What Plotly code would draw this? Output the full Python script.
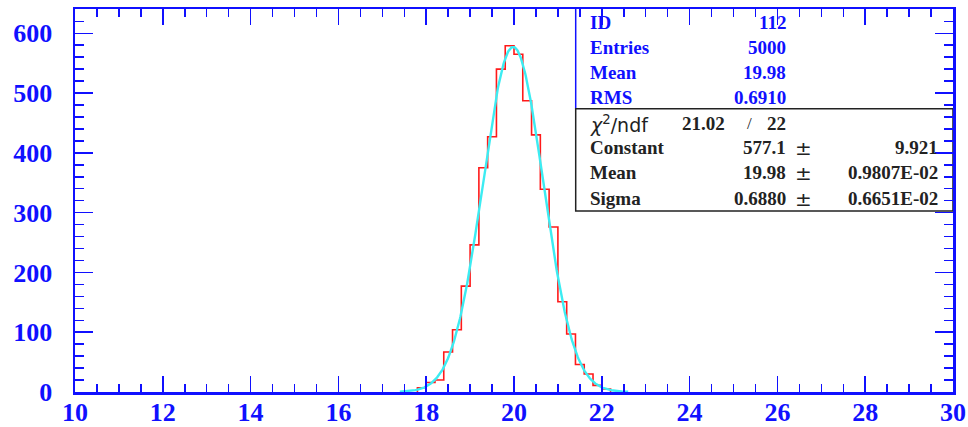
import numpy as np
import plotly.graph_objects as go

# ---- data ----
bin_width = 0.2
bin_lefts = [17.8, 18.0, 18.2, 18.4, 18.6, 18.8, 19.0, 19.2, 19.4, 19.6, 19.8,
             20.0, 20.2, 20.4, 20.6, 20.8, 21.0, 21.2, 21.4, 21.6, 21.8, 22.0]
counts = [7, 16, 20, 67, 104, 177, 246, 375, 427, 540, 579,
          565, 487, 430, 339, 276, 151, 97, 46, 30, 11, 5]

# Gaussian fit parameters (from the stats box)
fit_constant = 577.1
fit_mean = 19.98
fit_sigma = 0.6880
fit_range = [17.4, 22.6]

# stats box text
stat_labels = ["ID", "Entries", "Mean", "RMS"]
stat_values = ["112", "5000", "19.98", "0.6910"]
chi2_value = "21.02"
ndf_value = "22"
fit_labels = ["Constant", "Mean", "Sigma"]
fit_values = ["577.1", "19.98", "0.6880"]
fit_errors = ["9.921", "0.9807E-02", "0.6651E-02"]

x_ticks = [10, 12, 14, 16, 18, 20, 22, 24, 26, 28, 30]
y_ticks = [0, 100, 200, 300, 400, 500, 600]

# ---- layout geometry (pixels) ----
W, H = 968, 427
L, R, T, B = 75, 953, 8.5, 392

def px(xp):
    return (xp - L) / (R - L)

def py(yp):
    return (B - yp) / (B - T)

BLUE = "#1010ff"
DARK = "#222222"

# step histogram
xs = list(bin_lefts) + [bin_lefts[-1] + bin_width]
ys = list(counts) + [counts[-1]]
xs = [bin_lefts[0]] + xs + [xs[-1]]
ys = [0] + ys + [0]

fx = np.linspace(fit_range[0], fit_range[1], 400)
fy = fit_constant * np.exp(-0.5 * ((fx - fit_mean) / fit_sigma) ** 2)

fig = go.Figure()
fig.add_trace(go.Scatter(x=xs, y=ys, mode="lines", line=dict(color="#ff1a1a", width=1.6, shape="hv"),
                         hoverinfo="skip", showlegend=False))
fig.add_trace(go.Scatter(x=fx, y=fy, mode="lines", line=dict(color="#3cecf2", width=2.4),
                         hoverinfo="skip", showlegend=False))

tickfont = dict(family="Liberation Serif", size=26, color=BLUE, weight="bold")

fig.update_xaxes(range=[10, 30], tickvals=x_ticks, ticks="inside", ticklen=16, tickwidth=1.5,
                 tickcolor=BLUE, showline=True, linecolor=BLUE, linewidth=2.5, mirror="ticks",
                 showgrid=False, zeroline=False, tickfont=tickfont, ticklabelstandoff=-5, automargin=False,
                 minor=dict(dtick=0.5, ticks="inside", ticklen=8, tickwidth=1.5, tickcolor=BLUE, showgrid=False))
fig.update_yaxes(range=[0, (B - T) / 0.5987], tickvals=y_ticks, ticks="inside", ticklen=18, tickwidth=1.5,
                 tickcolor=BLUE, showline=True, linecolor=BLUE, linewidth=2.5, mirror="ticks",
                 showgrid=False, zeroline=False, tickfont=tickfont, ticklabelstandoff=15, automargin=False,
                 minor=dict(dtick=20, ticks="inside", ticklen=9, tickwidth=1.5, tickcolor=BLUE, showgrid=False))

# stats box
box_left = 575.7
sep_y = 108.3
box_bottom = 210.7
shapes = [
    dict(type="rect", xref="paper", yref="paper", x0=px(box_left), x1=1, y0=py(sep_y), y1=1,
         line=dict(width=0), fillcolor="white", layer="below"),
    dict(type="line", xref="paper", yref="paper", x0=px(box_left), x1=px(box_left), y0=py(sep_y), y1=1,
         line=dict(color=BLUE, width=1.5), layer="below"),
    dict(type="rect", xref="paper", yref="paper", x0=px(box_left), x1=1, y0=py(box_bottom), y1=py(sep_y),
         line=dict(color=DARK, width=1.5), fillcolor="white", layer="below"),
]

annotations = []
sfont_b = dict(family="Liberation Serif", size=19, color=BLUE, weight="bold")
sfont_k = dict(family="Liberation Serif", size=19, color=DARK, weight="bold")
lab_x = 588.3
val_x = 788.3
pm_x = 803
err_x = 940
blue_rows = [21.7, 46.7, 72.3, 97.3]
black_rows = [147.3, 172.7, 198.3]
chi_row = 123.3

def ann(x, y, text, font, anchor):
    annotations.append(dict(xref="paper", yref="paper", x=px(x), y=py(y), text=text, showarrow=False,
                            xanchor=anchor, yanchor="middle", font=font))

for lab, val, yy in zip(stat_labels, stat_values, blue_rows):
    ann(lab_x, yy, lab, sfont_b, "left")
    ann(val_x, yy, val, sfont_b, "right")

ann(lab_x, chi_row, "<i>χ</i><sup>2</sup>/ndf", dict(family="DejaVu Sans", size=19, color=DARK), "left")
ann(726.7, chi_row, chi2_value, sfont_k, "right")
ann(749, chi_row, "/", dict(family="Liberation Serif", size=17, color=DARK), "center")
ann(val_x, chi_row, ndf_value, sfont_k, "right")

for lab, val, err, yy in zip(fit_labels, fit_values, fit_errors, black_rows):
    ann(lab_x, yy, lab, sfont_k, "left")
    ann(val_x, yy, val, sfont_k, "right")
    ann(pm_x, yy, "±", dict(family="DejaVu Sans", size=20, color=DARK), "center")
    ann(err_x, yy, err, sfont_k, "right")

fig.update_layout(width=W, height=H,
                  margin=dict(l=L, r=W - R, t=T, b=H - B, pad=0, autoexpand=False),
                  paper_bgcolor="white", plot_bgcolor="white", shapes=shapes, annotations=annotations,
                  showlegend=False)

fig.write_html("out.html", config={"displayModeBar": False, "staticPlot": True},
               post_script="document.body.style.margin='0px';document.body.style.overflow='hidden';")
